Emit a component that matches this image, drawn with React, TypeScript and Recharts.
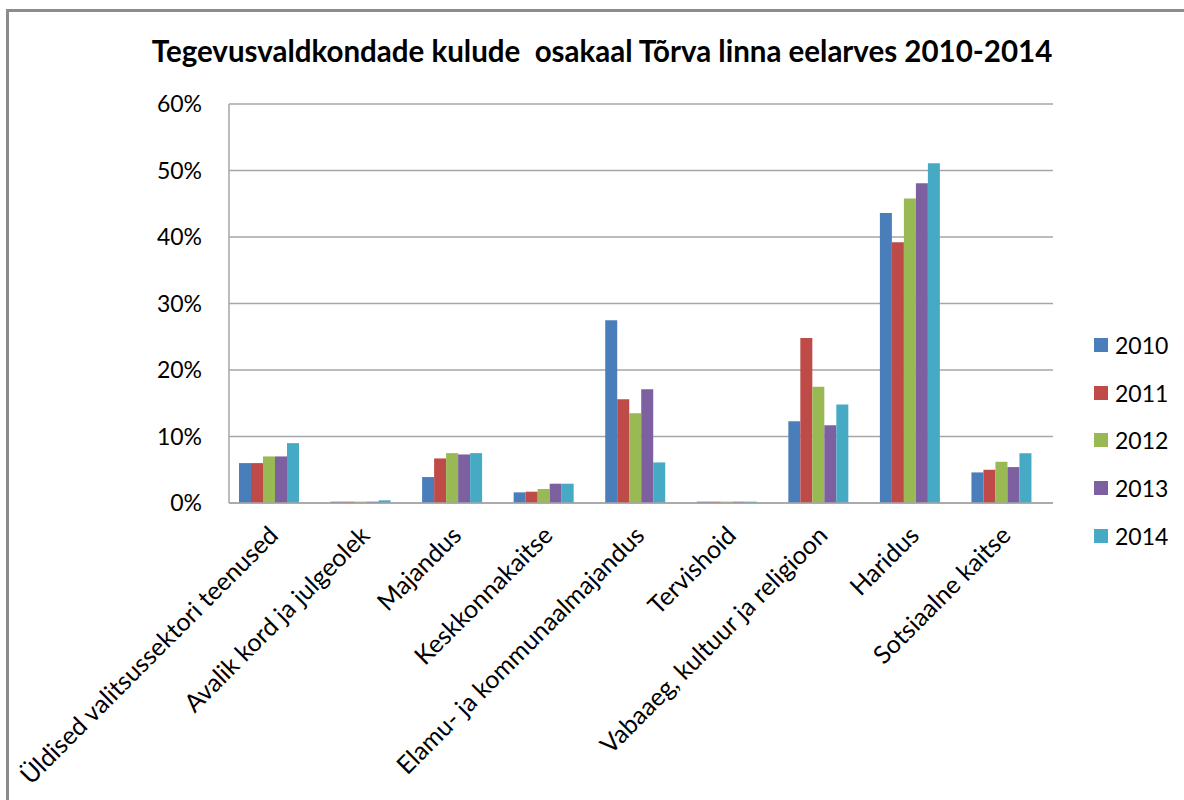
import { BarChart, Bar, XAxis, YAxis, CartesianGrid, Legend } from 'recharts';

const categories = [
  'Üldised valitsussektori teenused',
  'Avalik kord ja julgeolek',
  'Majandus',
  'Keskkonnakaitse',
  'Elamu- ja kommunaalmajandus',
  'Tervishoid',
  'Vabaaeg, kultuur ja religioon',
  'Haridus',
  'Sotsiaalne kaitse',
];

const years = ['2010', '2011', '2012', '2013', '2014'];

// osakaal protsentides
const v2010 = [6.0, 0.2, 3.9, 1.6, 27.5, 0.2, 12.3, 43.6, 4.6];
const v2011 = [6.0, 0.2, 6.7, 1.7, 15.6, 0.2, 24.8, 39.2, 5.0];
const v2012 = [7.0, 0.2, 7.5, 2.1, 13.5, 0.2, 17.5, 45.8, 6.2];
const v2013 = [7.0, 0.2, 7.3, 2.9, 17.1, 0.2, 11.7, 48.1, 5.4];
const v2014 = [9.0, 0.4, 7.5, 2.9, 6.1, 0.2, 14.8, 51.1, 7.5];

const yTicks = [0, 10, 20, 30, 40, 50, 60];

const colors = ['#4A7EBB', '#BE4B48', '#98B954', '#7D60A0', '#46AAC5'];

const series = [v2010, v2011, v2012, v2013, v2014];

const data = categories.map((name, i) => {
  const row: Record<string, string | number> = { name };
  years.forEach((yr, s) => {
    row[yr] = series[s][i];
  });
  return row;
});

const FONT = 'Lato, "Open Sans", sans-serif';

function CategoryTick(props: any) {
  const { x, y, payload } = props;
  const ax = x + 5;
  const ay = y + 34;
  return (
    <text
      x={ax}
      y={ay}
      textAnchor="end"
      fontSize={25}
      fontFamily={FONT}
      fill="#000"
      transform={`rotate(-45 ${ax} ${ay})`}
    >
      {payload.value}
    </text>
  );
}

function YearLegend() {
  return (
    <div style={{ fontFamily: FONT, fontSize: 23, color: '#000' }}>
      {years.map((yr, i) => (
        <div
          key={yr}
          style={{ display: 'flex', alignItems: 'center', height: 47.7 }}
        >
          <span
            style={{
              width: 14,
              height: 14,
              background: colors[i],
              display: 'inline-block',
              marginRight: 7,
            }}
          />
          <span>{yr}</span>
        </div>
      ))}
    </div>
  );
}

export default function App() {
  return (
    <div
      style={{
        position: 'absolute',
        left: 0,
        top: 0,
        width: 1184,
        height: 800,
        background: '#fff',
        overflow: 'hidden',
        fontFamily: FONT,
      }}
    >
      <div
        style={{
          position: 'absolute',
          left: 6,
          top: 9,
          width: 1190,
          height: 800,
          borderTop: '3px solid #8c8c8c',
          borderLeft: '3px solid #8c8c8c',
        }}
      />
      <div
        style={{
          position: 'absolute',
          left: 0,
          width: 1204,
          top: 33,
          textAlign: 'center',
          fontWeight: 700,
          fontSize: 29.5,
          color: '#000',
          whiteSpace: 'pre',
        }}
      >
        {'Tegevusvaldkondade kulude  osakaal Tõrva linna eelarves 2010-2014'}
      </div>
      <div style={{ position: 'absolute', left: 0, top: 0 }}>
        <BarChart
          width={1184}
          height={800}
          data={data}
          margin={{ top: 104, right: 41, left: 0, bottom: 0 }}
          barGap={0}
          barSize={12}
        >
          <CartesianGrid vertical={false} stroke="#a6a6a6" strokeWidth={1.5} />
          <XAxis
            dataKey="name"
            height={297}
            interval={0}
            tickLine={false}
            tickSize={0}
            tickMargin={0}
            axisLine={{ stroke: '#a6a6a6', strokeWidth: 1.5 }}
            tick={<CategoryTick />}
          />
          <YAxis
            width={229}
            domain={[0, 60]}
            ticks={yTicks}
            interval={0}
            tickLine={false}
            tickSize={0}
            tickMargin={27}
            axisLine={{ stroke: '#a6a6a6', strokeWidth: 1.5 }}
            tickFormatter={(v: number) => `${v}%`}
            tick={{ fill: '#000', fontSize: 23, fontFamily: FONT }}
          />
          <Legend
            layout="vertical"
            align="right"
            verticalAlign="top"
            wrapperStyle={{ left: 1094, top: 321, width: 90 }}
            content={() => <YearLegend />}
          />
          {years.map((yr, i) => (
            <Bar
              key={yr}
              dataKey={yr}
              name={yr}
              fill={colors[i]}
              isAnimationActive={false}
            />
          ))}
          {/* tühi lisaseeria, nagu originaalis nihutab tulbad vasakule */}
          <Bar dataKey="varu" legendType="none" fill="none" isAnimationActive={false} />
        </BarChart>
      </div>
    </div>
  );
}
